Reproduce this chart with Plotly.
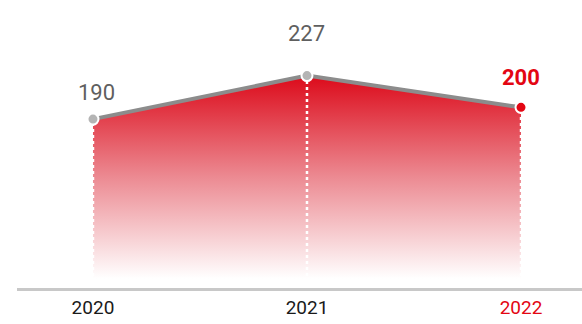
import plotly.graph_objects as go

years = [2020, 2021, 2022]
values = [190, 227, 200]
tick_labels = ["2020", "2021", "<span style='color:#e30613'>2022</span>"]

base = 46.5
red = "#e30613"
grey = "#8c8c8c"

fig = go.Figure()

# gradient area
fig.add_trace(go.Scatter(
    x=years, y=[base] * len(years), mode="lines",
    line=dict(width=0), hoverinfo="skip", showlegend=False))
fig.add_trace(go.Scatter(
    x=years, y=values, mode="lines", fill="tonexty",
    line=dict(width=0),
    fillgradient=dict(type="vertical", start=base + 8, stop=227,
                      colorscale=[[0, "rgba(255,255,255,1)"], [0.5, "#ec8a92"], [1, "#dc0a1a"]]),
    hoverinfo="skip", showlegend=False))

# dotted verticals
for x, v in zip(years, values):
    fig.add_trace(go.Scatter(
        x=[x, x], y=[base, v], mode="lines",
        line=dict(color="white", width=2.5, dash="dot"),
        hoverinfo="skip", showlegend=False))

# top line
fig.add_trace(go.Scatter(
    x=years, y=values, mode="lines",
    line=dict(color=grey, width=4), showlegend=False))

fig.add_trace(go.Scatter(
    x=years, y=values, mode="markers",
    marker=dict(size=11, color=["#b4b4b4", "#b4b4b4", red],
                line=dict(color="white", width=2)),
    showlegend=False))

shifts = [27, 42, 30]
for x, v, s in zip(years, values, shifts):
    last = x == years[-1]
    fig.add_annotation(
        x=x, y=v, text=f"<b>{v}</b>" if last else str(v),
        showarrow=False, yshift=s, xshift=4 if x == years[0] else 0,
        font=dict(size=22, color=red if last else "#5f5f5f", family="Roboto"))

fig.update_layout(
    width=582, height=324,
    margin=dict(l=17, r=0, t=0, b=36),
    paper_bgcolor="white", plot_bgcolor="white",
    font=dict(family="Roboto"),
)
fig.update_xaxes(
    range=[2019.645, 2022.285], tickvals=years, ticktext=tick_labels,
    showgrid=False, zeroline=False, showline=True,
    linecolor="#c8c8c8", linewidth=3, ticks="",
    tickfont=dict(size=19, color="#1a1a1a"))
fig.update_yaxes(range=[base, 291.2], visible=False)

fig.write_html("out.html", config={"displayModeBar": False},
               post_script="document.body.style.margin='0';")
